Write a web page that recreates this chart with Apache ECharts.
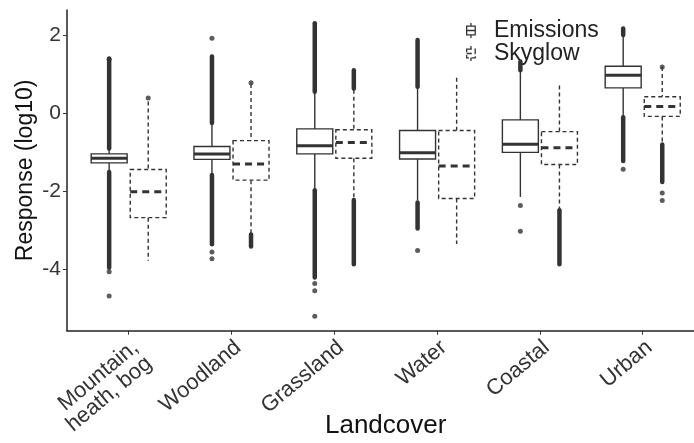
<!DOCTYPE html>
<html>
<head>
<meta charset="utf-8">
<script src="https://cdn.jsdelivr.net/npm/echarts@6/dist/echarts.min.js"></script>
<style>
    html, body { margin: 0; padding: 0; background: #fff; }
    #chart { width: 694px; height: 443px; }
</style>
</head>
<body>
<div id="chart"></div>
<script>
var categories = ['Mountain,\nheath, bog', 'Woodland', 'Grassland', 'Water', 'Coastal', 'Urban'];
var yTicks = [-4, -2, 0, 2];

// [lower whisker, Q1, median, Q3, upper whisker]
var emissionsBox = [
    [-1.45, -1.27, -1.15, -1.04, -0.88],
    [-1.53, -1.18, -1.04, -0.85, -0.30],
    [-1.93, -1.04, -0.83, -0.40, 0.52],
    [-2.23, -1.17, -1.01, -0.44, 0.65],
    [-2.14, -1.00, -0.79, -0.17, 1.08],
    [-0.08, 0.65, 0.97, 1.20, 1.98]
];
var skyglowBox = [
    [-3.77, -2.67, -2.01, -1.44, 0.30],
    [-3.08, -1.71, -1.30, -0.70, 0.75],
    [-2.18, -1.15, -0.75, -0.42, 0.60],
    [-3.34, -2.18, -1.35, -0.44, 0.91],
    [-2.44, -1.31, -0.88, -0.47, 0.71],
    [-0.77, -0.08, 0.17, 0.42, 1.18]
];

// dense runs of outliers, [from, to]
var emissionsRuns = [
    [[-3.95, -1.50], [-0.90, 1.40]],
    [[-3.35, -1.58], [-0.25, 1.45]],
    [[-4.20, -1.97], [0.55, 2.30]],
    [[-2.95, -2.28], [0.68, 1.87]],
    [[1.10, 1.32]],
    [[-1.22, -0.10], [2.00, 2.17]]
];
var skyglowRuns = [
    [],
    [[-3.41, -3.10]],
    [[-3.86, -2.22], [0.63, 1.10]],
    [],
    [[-3.86, -2.48]],
    [[-1.76, -0.80]]
];

// single outliers
var emissionsDots = [
    [1.38, -4.05, -4.67],
    [1.92, -3.55, -3.72],
    [-4.35, -4.54, -5.19],
    [-3.51],
    [-2.36, -3.02],
    [-1.43]
];
var skyglowDots = [
    [0.39],
    [0.78],
    [],
    [],
    [],
    [1.18, -2.04, -2.23]
];

var dodge = 0.19;
var boxWidth = 0.35;
var ink = '#333';

function boxData(box, shift) {
    return box.map(function (b, i) { return [i + shift].concat(b); });
}
function runData(runs, shift) {
    var res = [];
    runs.forEach(function (list, i) {
        list.forEach(function (r) { res.push([i + shift, r[0], r[1]]); });
    });
    return res;
}
function dotData(dots, shift) {
    var res = [];
    dots.forEach(function (list, i) {
        list.forEach(function (v) { res.push([i + shift, v]); });
    });
    return res;
}

function renderBox(dashed) {
    return function (params, api) {
        var x = api.value(0);
        var half = api.size([boxWidth, 0])[0] / 2;
        var pMin = api.coord([x, api.value(1)]);
        var pQ1 = api.coord([x, api.value(2)]);
        var pMed = api.coord([x, api.value(3)]);
        var pQ3 = api.coord([x, api.value(4)]);
        var pMax = api.coord([x, api.value(5)]);
        var dash = dashed ? [4, 3] : null;
        var line = { stroke: ink, lineWidth: 1.4, lineDash: dash };
        return {
            type: 'group',
            children: [
                { type: 'line', shape: { x1: pMax[0], y1: pMax[1], x2: pQ3[0], y2: pQ3[1] }, style: line },
                { type: 'line', shape: { x1: pQ1[0], y1: pQ1[1], x2: pMin[0], y2: pMin[1] }, style: line },
                {
                    type: 'rect',
                    shape: { x: pMed[0] - half, y: pQ3[1], width: half * 2, height: pQ1[1] - pQ3[1] },
                    style: { fill: '#fff', stroke: ink, lineWidth: 1.4, lineDash: dash }
                },
                {
                    type: 'line',
                    shape: { x1: pMed[0] - half, y1: pMed[1], x2: pMed[0] + half, y2: pMed[1] },
                    style: { stroke: ink, lineWidth: 3, lineDash: dashed ? [7, 5] : null }
                }
            ]
        };
    };
}

function renderRun(params, api) {
    var a = api.coord([api.value(0), api.value(1)]);
    var b = api.coord([api.value(0), api.value(2)]);
    return {
        type: 'line',
        shape: { x1: a[0], y1: a[1], x2: b[0], y2: b[1] },
        style: { stroke: ink, lineWidth: 4.5, lineCap: 'round' }
    };
}

var iconPath = 'path://M5,0L5,3M1,3L9,3L9,11L1,11ZM1,7L9,7M5,11L5,14';
var font = 'Liberation Sans, Arial, sans-serif';

var chart = echarts.init(document.getElementById('chart'));
var option = {
    animation: false,
    backgroundColor: '#fff',
    textStyle: { fontFamily: font },
    grid: { left: 67, right: -10.4, top: 10, bottom: 112.3, outerBoundsMode: 'none' },
    legend: {
        orient: 'vertical',
        left: 461,
        top: 14,
        itemGap: 0,
        itemWidth: 12,
        itemHeight: 15,
        selectedMode: false,
        textStyle: { fontSize: 23, color: '#222', lineHeight: 20, padding: [0, 0, 0, 12] },
        data: [
            { name: 'Emissions', icon: iconPath, itemStyle: { color: '#fff', borderColor: ink, borderWidth: 1.3 } },
            { name: 'Skyglow', icon: iconPath, itemStyle: { color: '#fff', borderColor: ink, borderWidth: 1.3, borderType: 'dashed' } }
        ]
    },
    xAxis: {
        type: 'value',
        min: -0.6,
        max: 5.6,
        name: 'Landcover',
        nameLocation: 'middle',
        nameGap: 82,
        nameMoveOverlap: false,
        nameTextStyle: { fontSize: 26, color: '#111' },
        splitLine: { show: false },
        axisLine: { onZero: false, lineStyle: { color: '#222', width: 1.5 } },
        axisTick: { customValues: [0, 1, 2, 3, 4, 5], length: 4, lineStyle: { color: ink } },
        axisLabel: {
            customValues: [0, 1, 2, 3, 4, 5],
            rotate: 40,
            verticalAlign: 'top',
            margin: 6,
            fontSize: 22,
            lineHeight: 21,
            color: ink,
            formatter: function (v) { return categories[Math.round(v)]; }
        }
    },
    yAxis: {
        type: 'value',
        min: -5.56,
        max: 2.64,
        name: 'Response (log10)',
        nameLocation: 'middle',
        nameGap: 30,
        nameMoveOverlap: false,
        nameTextStyle: { fontSize: 23, color: '#111' },
        splitLine: { show: false },
        axisLine: { show: true, onZero: false, lineStyle: { color: '#222', width: 1.5 } },
        axisTick: { show: true, customValues: yTicks, length: 4, lineStyle: { color: ink } },
        axisLabel: { customValues: yTicks, fontSize: 21, color: ink, margin: 6 }
    },
    series: [
        {
            name: 'Emissions', type: 'custom', renderItem: renderRun,
            encode: { x: 0, y: [1, 2] }, data: runData(emissionsRuns, -dodge), silent: true
        },
        {
            name: 'Skyglow', type: 'custom', renderItem: renderRun,
            encode: { x: 0, y: [1, 2] }, data: runData(skyglowRuns, dodge), silent: true
        },
        {
            name: 'Emissions', type: 'scatter', symbolSize: 5, itemStyle: { color: ink },
            data: dotData(emissionsDots, -dodge), silent: true
        },
        {
            name: 'Skyglow', type: 'scatter', symbolSize: 5, itemStyle: { color: ink },
            data: dotData(skyglowDots, dodge), silent: true
        },
        {
            name: 'Emissions', type: 'custom', renderItem: renderBox(false),
            encode: { x: 0, y: [1, 2, 3, 4, 5] }, data: boxData(emissionsBox, -dodge), silent: true
        },
        {
            name: 'Skyglow', type: 'custom', renderItem: renderBox(true),
            encode: { x: 0, y: [1, 2, 3, 4, 5] }, data: boxData(skyglowBox, dodge), silent: true
        }
    ]
};
chart.setOption(option);
</script>
</body>
</html>
